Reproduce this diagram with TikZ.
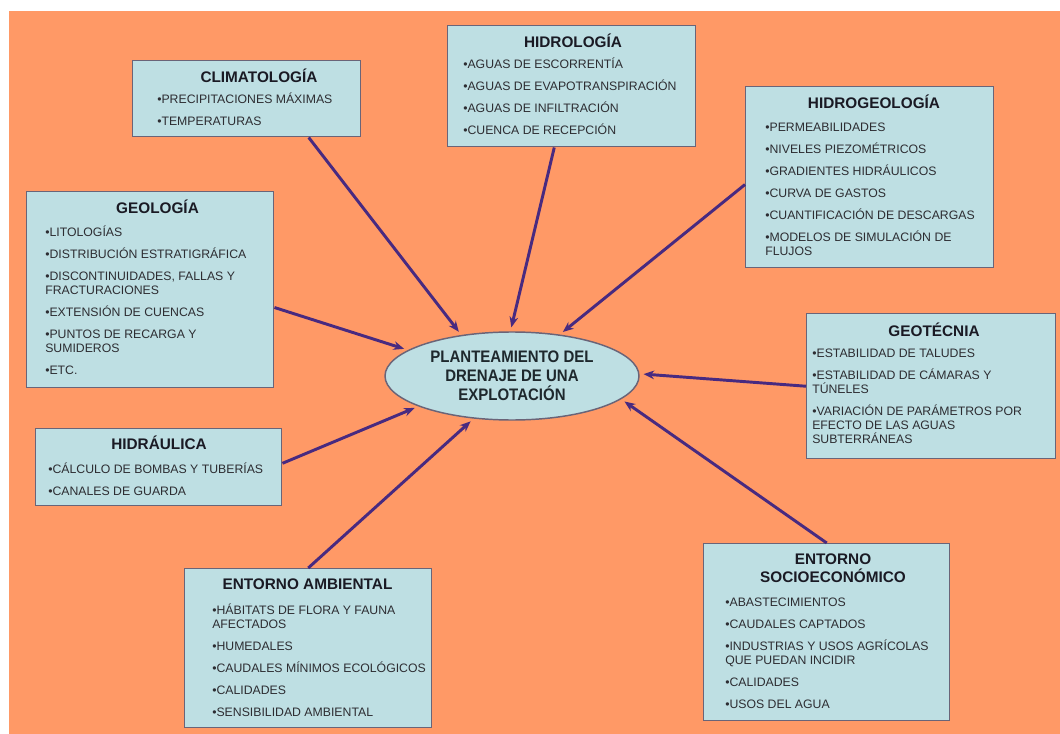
\documentclass[tikz,border=0pt]{standalone}
\usepackage{fontspec}
\setmainfont{Liberation Sans}
\newfontfamily\ellfont[FakeStretch=0.9]{Liberation Sans}
\usetikzlibrary{arrows.meta,shapes.geometric,calc}
\definecolor{bgorange}{RGB}{255,153,102}
\definecolor{boxfill}{RGB}{190,223,227}
\definecolor{boxline}{RGB}{106,100,120}
\definecolor{arrowc}{RGB}{72,42,128}
\definecolor{titlec}{RGB}{26,26,36}
\definecolor{itemc}{RGB}{45,45,50}
\definecolor{ellc}{RGB}{30,40,45}
\newcommand\firstln{\rule{0pt}{9pt}}
\tikzset{
  box/.style={draw=boxline, line width=1.1pt, fill=boxfill, rectangle, anchor=north west, inner sep=0pt},
  ttl/.style={anchor=base, inner sep=0pt, text=titlec, font=\fontsize{11.5}{13.5}\selectfont\bfseries},
  items/.style={anchor=north west, inner sep=0pt, align=left, text=itemc, font=\fontsize{9.2}{10.5}\selectfont},
  link/.style={draw=arrowc, line width=2.2pt, -{Stealth[length=8pt,width=6.5pt]}, shorten >=3pt},
}
\begin{document}
\begin{tikzpicture}[x=0.75pt,y=-0.75pt]
\useasboundingbox (0,0) rectangle (1060,734);
\fill[white] (0,0) rectangle (1060,734);
\fill[bgorange] (9,11) rectangle (1060,734);

% boxes
\node[box, minimum width=171pt, minimum height=57pt] (clim) at (132,60) {};
\node[box, minimum width=186pt, minimum height=90.75pt] (hidrol) at (447,25) {};
\node[box, minimum width=186pt, minimum height=135.75pt] (hgeo) at (745,86) {};
\node[box, minimum width=185.25pt, minimum height=147pt] (geol) at (26,191) {};
\node[box, minimum width=184.5pt, minimum height=57.75pt] (hidraul) at (35,428) {};
\node[box, minimum width=186.75pt, minimum height=108.75pt] (geot) at (806,313) {};
\node[box, minimum width=185.25pt, minimum height=119.25pt] (amb) at (184,568) {};
\node[box, minimum width=184.5pt, minimum height=132.75pt] (socio) at (703,543) {};

% central ellipse
\node[ellipse, draw=boxline, line width=1.1pt, fill=boxfill, inner sep=0pt,
      minimum width=190.5pt, minimum height=66pt, align=center, text=ellc,
      font=\fontsize{12.5}{14.25}\selectfont\ellfont\bfseries] (ell) at (512,376)
  {PLANTEAMIENTO DEL\\DRENAJE DE UNA\\EXPLOTACIÓN};

% titles
\node[ttl] (clim-t) at (259,82.5) {CLIMATOLOGÍA};
\node[ttl] (hidrol-t) at (573,47.5) {HIDROLOGÍA};
\node[ttl] (hgeo-t) at (874,108.5) {HIDROGEOLOGÍA};
\node[ttl] (geol-t) at (157.5,213.5) {GEOLOGÍA};
\node[ttl] (hidraul-t) at (159,449.5) {HIDRÁULICA};
\node[ttl] (geot-t) at (934,336.5) {GEOTÉCNIA};
\node[ttl] (amb-t) at (307.5,589.5) {ENTORNO AMBIENTAL};
\node[ttl, anchor=north, align=center] (socio-t) at (833,550.5)
  {\rule{0pt}{10.5pt}ENTORNO\\SOCIOECONÓMICO};

% items
\node[items] (clim-i) at (157,91.4)
  {\firstln•PRECIPITACIONES MÁXIMAS\\[6pt]•TEMPERATURAS};
\node[items] (hidrol-i) at (463,56.4)
  {\firstln•AGUAS DE ESCORRENTÍA\\[6pt]•AGUAS DE EVAPOTRANSPIRACIÓN\\[6pt]•AGUAS DE INFILTRACIÓN\\[6pt]•CUENCA DE RECEPCIÓN};
\node[items] (hgeo-i) at (765,119.4)
  {\firstln•PERMEABILIDADES\\[6pt]•NIVELES PIEZOMÉTRICOS\\[6pt]•GRADIENTES HIDRÁULICOS\\[6pt]•CURVA DE GASTOS\\[6pt]•CUANTIFICACIÓN DE DESCARGAS\\[6pt]•MODELOS DE SIMULACIÓN DE\\FLUJOS};
\node[items] (geol-i) at (45,224.4)
  {\firstln•LITOLOGÍAS\\[6pt]•DISTRIBUCIÓN ESTRATIGRÁFICA\\[6pt]•DISCONTINUIDADES, FALLAS Y\\FRACTURACIONES\\[6pt]•EXTENSIÓN DE CUENCAS\\[6pt]•PUNTOS DE RECARGA Y\\SUMIDEROS\\[6pt]•ETC.};
\node[items] (hidraul-i) at (48,461.4)
  {\firstln•CÁLCULO DE BOMBAS Y TUBERÍAS\\[6pt]•CANALES DE GUARDA};
\node[items] (geot-i) at (812,345.4)
  {\firstln•ESTABILIDAD DE TALUDES\\[6pt]•ESTABILIDAD DE CÁMARAS Y\\TÚNELES\\[6pt]•VARIACIÓN DE PARÁMETROS POR\\EFECTO DE LAS AGUAS\\SUBTERRÁNEAS};
\node[items] (amb-i) at (212,602.4)
  {\firstln•HÁBITATS DE FLORA Y FAUNA\\AFECTADOS\\[6pt]•HUMEDALES\\[6pt]•CAUDALES MÍNIMOS ECOLÓGICOS\\[6pt]•CALIDADES\\[6pt]•SENSIBILIDAD AMBIENTAL};
\node[items] (socio-i) at (725,594.4)
  {\firstln•ABASTECIMIENTOS\\[6pt]•CAUDALES CAPTADOS\\[6pt]•INDUSTRIAS Y USOS AGRÍCOLAS\\QUE PUEDAN INCIDIR\\[6pt]•CALIDADES\\[6pt]•USOS DEL AGUA};

% connectors
\draw[link] ($(clim.south west)!0.77!(clim.south east)$) -- (ell.141);
\draw[link] ($(hidrol.south west)!0.43!(hidrol.south east)$) -- (ell.92.5);
\draw[link] ($(hgeo.north west)!0.54!(hgeo.south west)$) -- (ell.41);
\draw[link] ($(geol.north east)!0.59!(geol.south east)$) -- (ell.166);
\draw[link] ($(hidraul.north east)!0.45!(hidraul.south east)$) -- (ell.198);
\draw[link] (amb.north) -- (ell.228);
\draw[link] (geot.west) -- (ell.1);
\draw[link] (socio.north) -- (ell.348.5);
\end{tikzpicture}
\end{document}
